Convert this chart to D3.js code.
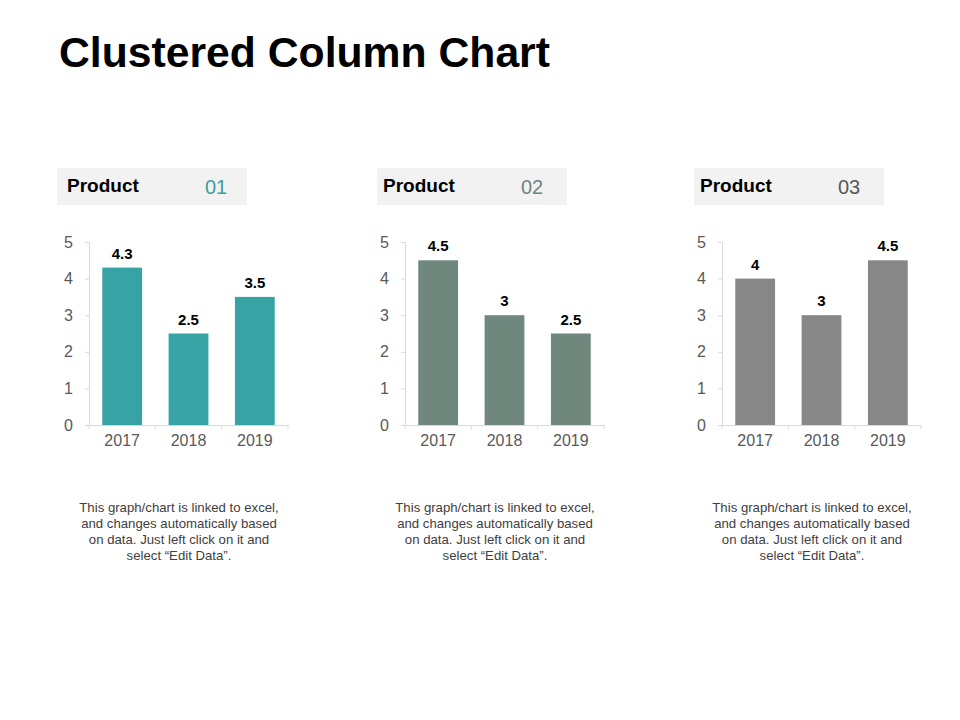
<!DOCTYPE html>
<html>
<head>
    <meta charset="utf-8">
    <script src="https://d3js.org/d3.v7.min.js"></script>
    <style>
        body { margin: 0; background: #fff; }
        svg { font-family: "Liberation Sans", Arial, sans-serif; }
    </style>
</head>
<body>
<script>
    // data
    var years = ["2017", "2018", "2019"];
    var product01 = [4.3, 2.5, 3.5];
    var product02 = [4.5, 3, 2.5];
    var product03 = [4, 3, 4.5];
    var productNames = ["01", "02", "03"];
    var yTicks = [0, 1, 2, 3, 4, 5];
    var note = ["This graph/chart is linked to excel,",
                "and changes automatically based",
                "on data. Just left click on it and",
                "select \u201cEdit Data\u201d."];

    var panels = [
        {name: productNames[0], values: product01, color: "#38A3A5", numColor: "#3A9FA3", x: 89, boxX: -32},
        {name: productNames[1], values: product02, color: "#70877E", numColor: "#6E8580", x: 405, boxX: -28},
        {name: productNames[2], values: product03, color: "#878787", numColor: "#585858", x: 722, boxX: -28}
    ];

    var svg = d3.select("body").append("svg")
        .attr("width", 960)
        .attr("height", 720);

    svg.append("text")
        .attr("x", 59)
        .attr("y", 67)
        .style("font-size", "42.7px")
        .style("font-weight", "bold")
        .style("fill", "#000")
        .text("Clustered Column Chart");

    var chartW = 199, plotTop = 242, base = 425;

    panels.forEach(function(p) {
        var g = svg.append("g").attr("transform", "translate(" + p.x + ",0)");

        // header box
        g.append("rect")
            .attr("x", p.boxX).attr("y", 168)
            .attr("width", 190).attr("height", 37)
            .style("fill", "#F2F2F2");
        g.append("text")
            .attr("x", -22).attr("y", 192)
            .style("font-size", "19px")
            .style("font-weight", "bold")
            .style("fill", "#000")
            .text("Product");
        g.append("text")
            .attr("x", 127).attr("y", 194)
            .attr("text-anchor", "middle")
            .style("font-size", "20px")
            .style("fill", p.numColor)
            .text(p.name);

        var x = d3.scaleBand().domain(years).range([0, chartW]).paddingInner(0.4).paddingOuter(0.2);
        var y = d3.scaleLinear().domain([0, 5]).range([base, plotTop]);

        // y axis
        var yAxis = g.append("g")
            .call(d3.axisLeft(y).tickValues(yTicks).tickSize(4).tickPadding(12).tickFormat(d3.format("d")));
        yAxis.selectAll("path, line").style("stroke", "#D9D9D9");
        yAxis.selectAll("text").style("font-size", "16px").style("fill", "#595959")
            .attr("font-family", "Liberation Sans, Arial, sans-serif");

        // x axis
        var xAxis = g.append("g")
            .attr("transform", "translate(0," + base + ")")
            .call(d3.axisBottom(x).tickSize(0).tickPadding(10));
        xAxis.select("path").style("stroke", "#D9D9D9");
        xAxis.selectAll("text").style("font-size", "16px").style("fill", "#595959")
            .attr("font-family", "Liberation Sans, Arial, sans-serif");
        xAxis.selectAll(".sep")
            .data(d3.range(0, years.length + 1))
            .enter().append("line")
            .attr("x1", function(i) { return i * chartW / years.length; })
            .attr("x2", function(i) { return i * chartW / years.length; })
            .attr("y1", 0).attr("y2", 4)
            .style("stroke", "#D9D9D9");

        // bars
        g.selectAll(".bar")
            .data(p.values)
            .enter().append("rect")
            .attr("x", function(d, i) { return x(years[i]); })
            .attr("y", function(d) { return y(d); })
            .attr("width", x.bandwidth())
            .attr("height", function(d) { return base - y(d); })
            .style("fill", p.color);

        g.selectAll(".val")
            .data(p.values)
            .enter().append("text")
            .attr("x", function(d, i) { return x(years[i]) + x.bandwidth() / 2; })
            .attr("y", function(d) { return y(d) - 9; })
            .attr("text-anchor", "middle")
            .style("font-size", "15px")
            .style("font-weight", "bold")
            .style("fill", "#000")
            .text(function(d) { return d; });

        // note
        g.append("text")
            .attr("text-anchor", "middle")
            .style("font-size", "13.2px")
            .style("fill", "#404040")
            .selectAll("tspan")
            .data(note)
            .enter().append("tspan")
            .attr("x", 90)
            .attr("y", function(d, i) { return 512 + i * 16; })
            .text(function(d) { return d; });
    });
</script>
</body>
</html>
